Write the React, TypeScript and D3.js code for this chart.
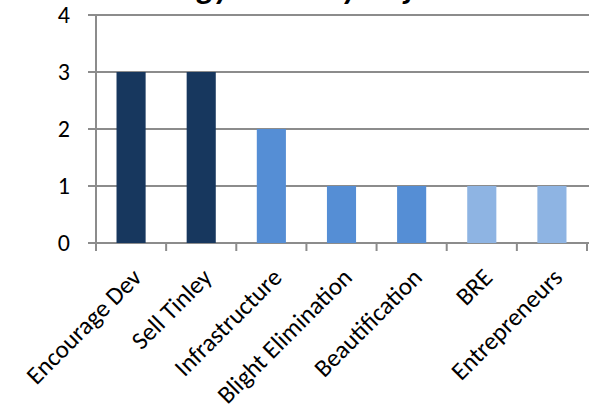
import React from 'react';
import * as d3 from 'd3';

const categories = ['Encourage Dev', 'Sell Tinley', 'Infrastructure', 'Blight Elimination', 'Beautification', 'BRE', 'Entrepreneurs'];
const counts = [3, 3, 2, 1, 1, 1, 1];
const barColors = ['#17375E', '#17375E', '#558ED5', '#558ED5', '#558ED5', '#8EB4E3', '#8EB4E3'];
const yTicks = [0, 1, 2, 3, 4];
const title = 'Strategy Count by Objective';

const W = 589;
const H = 413;
const margin = { top: 15, right: 2, bottom: 170, left: 96 };
const font = 'Carlito, Calibri, "Open Sans", sans-serif';

export default function App() {
  const x = d3.scaleBand<string>()
    .domain(categories)
    .range([margin.left, W - margin.right])
    .paddingInner(0.585)
    .paddingOuter(0.2925);
  const bandX = d3.scaleBand<string>()
    .domain(categories)
    .range([margin.left, W - margin.right]);
  const y = d3.scaleLinear().domain([0, 4]).range([H - margin.bottom, margin.top]);
  const grid = '#8C8C8C';

  return (
    <svg width={W} height={H} style={{ position: 'absolute', left: 0, top: 0, background: '#fff' }}>
      {/* title sits mostly above the visible area, as in the source */}
      <text x={304} y={-1} textAnchor="middle" fontFamily={font} fontWeight="bold" fontStyle="italic" fontSize={33}>
        {title}
      </text>
      {/* gridlines + y ticks */}
      {yTicks.map(t => (
        <g key={t}>
          <line x1={margin.left - 8} x2={W} y1={y(t)} y2={y(t)} stroke={grid} strokeWidth={2} />
          <text x={70} y={y(t)} dy="0.35em" textAnchor="end" fontFamily={font} fontSize={24}>{t}</text>
        </g>
      ))}
      {/* bars */}
      {categories.map((c, i) => (
        <rect key={c} x={x(c)} y={y(counts[i])} width={x.bandwidth()} height={y(0) - y(counts[i])} fill={barColors[i]} />
      ))}
      <line x1={margin.left} x2={margin.left} y1={y(4)} y2={y(0) + 8} stroke={grid} strokeWidth={2} />
      {/* x ticks */}
      {categories.map(c => (
        <line key={c} x1={(bandX(c) ?? 0) + bandX.bandwidth()} x2={(bandX(c) ?? 0) + bandX.bandwidth()} y1={y(0)} y2={y(0) + 8} stroke={grid} strokeWidth={2} />
      ))}
      {/* x labels, rotated -45deg, ending below their category */}
      {categories.map(c => {
        const cx = (bandX(c) ?? 0) + bandX.bandwidth() / 2 + 12;
        const cy = y(0) + 36;
        return (
          <text key={c} transform={`translate(${cx},${cy}) rotate(-45)`} textAnchor="end" fontFamily={font} fontSize={25}>
            {c}
          </text>
        );
      })}
    </svg>
  );
}
